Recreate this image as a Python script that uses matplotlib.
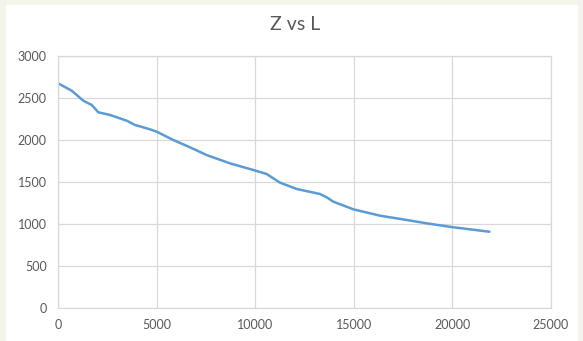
import matplotlib.pyplot as plt
from matplotlib.patches import Rectangle

# 読み取った値
L = [0, 694, 1283, 1709, 2044, 2637, 3483, 3905, 4665, 5005, 5848, 6694,
     7540, 8722, 9904, 10583, 11258, 12104, 13286, 13624, 13960, 14975,
     16328, 17682, 18697, 20050, 21876]
Z = [2675, 2587, 2468, 2417, 2330, 2298, 2230, 2179, 2127, 2099, 2000, 1913,
     1821, 1722, 1643, 1595, 1492, 1417, 1357, 1318, 1266, 1175,
     1099, 1048, 1008, 961, 908]
x_ticks = [0, 5000, 10000, 15000, 20000, 25000]
y_ticks = [0, 500, 1000, 1500, 2000, 2500, 3000]

plt.rcParams["font.family"] = ["Lato", "DejaVu Sans"]
grey = "#595959"
grid = "#d9d9d9"

fig = plt.figure(figsize=(5.83, 3.41), dpi=100)
fig.patch.set_facecolor("#f4f4ea")
# チャート領域の白い背景
fig.patches.append(Rectangle((6 / 583, 0), 572 / 583, 336 / 341,
                             transform=fig.transFigure, facecolor="white",
                             edgecolor="none", zorder=-10))

ax = fig.add_axes([58 / 583, 33 / 341, 493 / 583, 252 / 341])
ax.set_facecolor("white")
ax.plot(L, Z, color="#5b9bd5", linewidth=1.8, solid_capstyle="round")

ax.set_xlim(0, 25000)
ax.set_ylim(0, 3000)
ax.set_xticks(x_ticks)
ax.set_yticks(y_ticks)
ax.grid(True, color=grid, linewidth=0.9)
ax.set_axisbelow(True)
for s in ax.spines.values():
    s.set_color(grid)
    s.set_linewidth(0.9)
ax.tick_params(length=0, labelsize=9, labelcolor=grey, pad=8)

fig.text(295 / 583, 1 - 24 / 341, "Z vs L", ha="center", va="center",
         fontsize=14, color=grey)

fig.savefig("out.png", dpi=100, facecolor=fig.get_facecolor())
